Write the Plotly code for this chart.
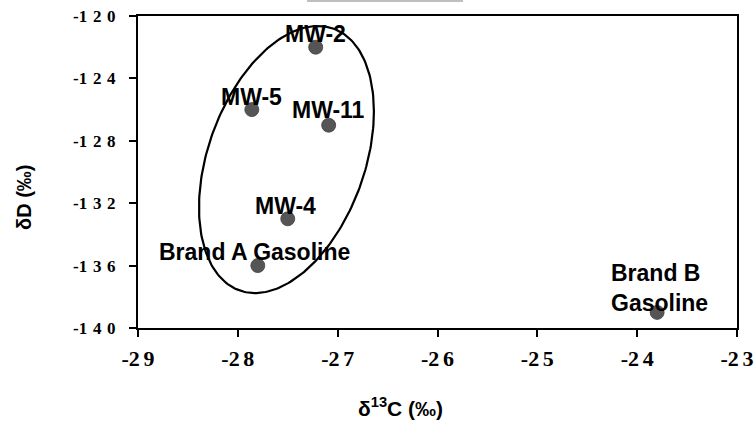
import numpy as np
import plotly.graph_objects as go

# ---- data ----
sample_names = ["MW-2", "MW-5", "MW-11", "MW-4", "Brand A Gasoline", "Brand B<br>Gasoline"]
d13c = [-27.22, -27.86, -27.09, -27.5, -27.8, -23.8]
dD = [-122.0, -126.0, -127.0, -133.0, -136.0, -139.0]
# label offsets relative to each point (pixels: right, up)
label_dx = [0, 0, 0, -2, -3, 2]
label_dy = [13, 13, 15, 13, 13.5, 24]

x_ticks = [-29, -28, -27, -26, -25, -24, -23]
y_ticks = [-140, -136, -132, -128, -124, -120]

# ellipse around the clustered samples: centre, half extents, tilt correlation
ell_cx, ell_cy = -27.513, -129.2
ell_hx, ell_hy, ell_rho = 0.876, 8.56, 0.36

W, H = 754, 421
ml, mr, mt, mb = 138, 17, 16, 93
xr = [-29, -23]
yr = [-140, -120]
pw, ph = W - ml - mr, H - mt - mb

t = np.linspace(0, 2 * np.pi, 240)
ell_x = ell_cx + ell_hx * np.cos(t)
ell_y = ell_cy + ell_hy * (ell_rho * np.cos(t) + np.sqrt(1 - ell_rho ** 2) * np.sin(t))

fig = go.Figure()
fig.add_trace(go.Scatter(x=ell_x, y=ell_y, mode="lines",
                         line=dict(color="black", width=2.2),
                         hoverinfo="skip", showlegend=False))
fig.add_trace(go.Scatter(
    x=d13c, y=dD, mode="markers",
    marker=dict(size=14, color="#555555", line=dict(color="#404040", width=0.8)),
    showlegend=False, cliponaxis=False))

label_font = dict(family="Liberation Sans, Arial, sans-serif", size=23, color="black",
                  weight="bold")
for name, x, y, dx, dy in zip(sample_names, d13c, dD, label_dx, label_dy):
    fig.add_annotation(x=x, y=y, text=name, showarrow=False, xanchor="center",
                       yanchor="middle", xshift=dx, yshift=dy, align="left",
                       font=label_font)


def spaced(v, sp):
    s = str(v)
    return s[0] + sp.join(s[1:]) if s.startswith("-") else sp.join(s)


ytext = [spaced(v, "\u2004") for v in y_ticks]
xtext = [spaced(v, "\u2006") for v in x_ticks]

common = dict(showgrid=False, zeroline=False, showline=True, linecolor="black",
              linewidth=2, mirror=True, ticks="outside", ticklen=7, tickwidth=1.5,
              tickcolor="black", automargin=False, ticklabeloverflow="allow")
fig.update_xaxes(range=xr, tickvals=x_ticks, ticktext=xtext, ticklabelstandoff=3,
                 tickfont=dict(family="Liberation Serif, Times New Roman, serif", size=22,
                               color="black", weight="bold"), **common)
fig.update_yaxes(range=yr, tickvals=y_ticks, ticktext=ytext, ticklabelstandoff=10,
                 tickfont=dict(family="Liberation Serif, Times New Roman, serif", size=17,
                               color="black", weight="bold"), **common)


def px_to_paper(xp, yp):
    return (xp - ml) / pw, 1 - (yp - mt) / ph


tx, ty = px_to_paper(400, 407)
fig.add_annotation(text="δ<sup>13</sup>C (‰)", xref="paper", yref="paper",
                   x=tx, y=ty, showarrow=False, xanchor="center", yanchor="middle",
                   font=dict(family="Liberation Sans Narrow, Liberation Sans, Arial",
                             size=21, color="black", weight="bold"))
tx, ty = px_to_paper(24, 198)
fig.add_annotation(text="δD (‰)", xref="paper", yref="paper",
                   x=tx, y=ty, showarrow=False, xanchor="center", yanchor="middle",
                   textangle=-90,
                   font=dict(family="Liberation Sans, Arial", size=20, color="black",
                             weight="bold"))

x0, yl = px_to_paper(307, 1)
x1, _ = px_to_paper(463, 1)
fig.add_shape(type="line", xref="paper", yref="paper", x0=x0, x1=x1, y0=yl, y1=yl,
              line=dict(color="#aaaaaa", width=1.5))

fig.update_layout(width=W, height=H, margin=dict(l=ml, r=mr, t=mt, b=mb),
                  plot_bgcolor="white", paper_bgcolor="white",
                  font=dict(family="Liberation Serif, serif"))
fig.write_html("out.html", config={"displayModeBar": False},
               post_script="document.body.style.margin='0';"
                           "document.body.style.overflow='hidden';")
